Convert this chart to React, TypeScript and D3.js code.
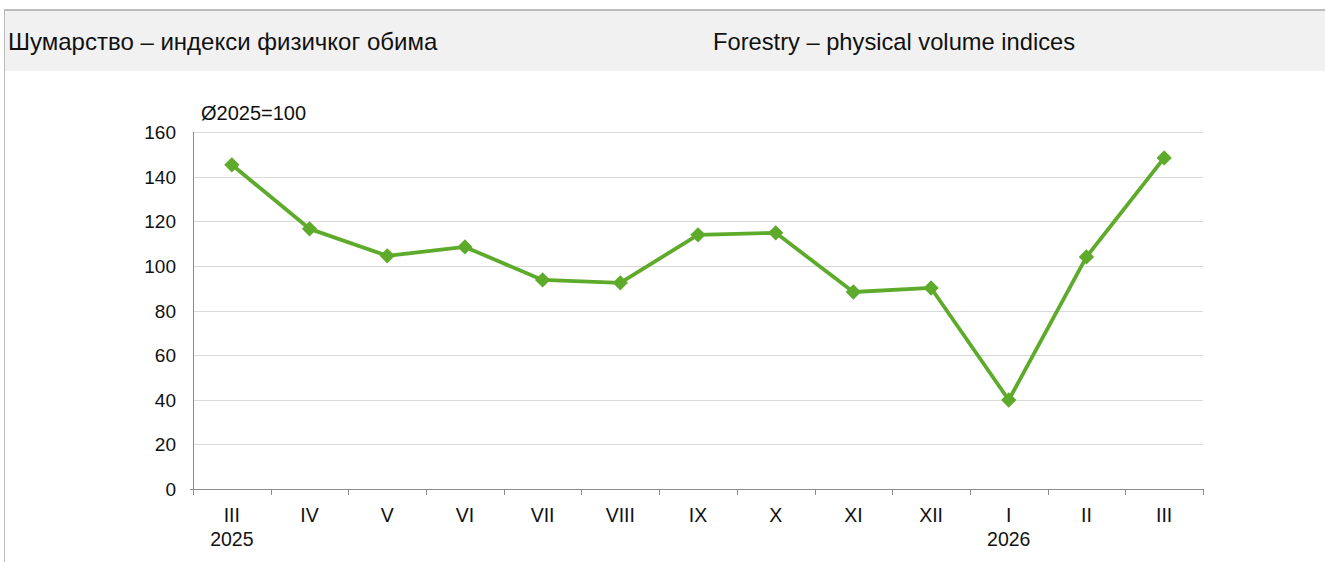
import React from "react";
import * as d3 from "d3";

const categories = ["III", "IV", "V", "VI", "VII", "VIII", "IX", "X", "XI", "XII", "I", "II", "III"];
const years = ["2025", "", "", "", "", "", "", "", "", "", "2026", "", ""];
const values = [145.3, 116.6, 104.5, 108.5, 93.7, 92.4, 113.9, 114.8, 88.3, 90.1, 39.9, 104.0, 148.4];
const yTicks = [0, 20, 40, 60, 80, 100, 120, 140, 160];
const titleSr = "Шумарство – индекси физичког обима";
const titleEn = "Forestry – physical volume indices";
const unitLabel = "Ø2025=100";

const W = 1325;
const H = 562;
const left = 193;
const right = 1203;
const top = 132;
const bottom = 489;
const green = "#5eab2b";
const font = "Liberation Sans, Arial, sans-serif";

export default function App() {
  const idx = categories.map((_, i) => i);
  const x = d3.scaleBand<number>().domain(idx).range([left, right]).padding(0);
  const y = d3.scaleLinear().domain([0, 160]).range([bottom, top]);
  const cx = (i: number) => (x(i) as number) + x.bandwidth() / 2;
  const line = d3.line<number>().x((_, i) => cx(i)).y((d) => y(d));
  const boundaries = d3.range(categories.length + 1).map((i) => left + i * x.bandwidth());
  const diamond = d3.symbol().type(d3.symbolDiamond2).size(150)();

  return (
    <svg width={W} height={H} style={{ position: "absolute", left: 0, top: 0 }} fontFamily={font}>
      <rect x={0} y={0} width={W} height={H} fill="#fff" />
      <rect x={4} y={10} width={W - 4} height={61} fill="#f1f1f1" />
      <line x1={4} x2={W} y1={10} y2={10} stroke="#bcbcbc" strokeWidth={2} />
      <line x1={4.5} x2={4.5} y1={9} y2={H} stroke="#bcbcbc" strokeWidth={1} />
      <text x={8} y={50} fontSize={24} fill="#111">{titleSr}</text>
      <text x={713} y={50} fontSize={23.7} fill="#111">{titleEn}</text>

      {yTicks.filter((t) => t > 0).map((t) => (
        <line key={t} x1={left} x2={right} y1={Math.round(y(t)) + 0.5} y2={Math.round(y(t)) + 0.5} stroke="#d9d9d9" strokeWidth={1} />
      ))}
      {yTicks.map((t) => (
        <text key={t} x={176} y={y(t) + 7} fontSize={19} textAnchor="end" fill="#111">{t}</text>
      ))}
      <text x={201} y={120} fontSize={20} fill="#111">{unitLabel}</text>

      <line x1={left + 0.5} x2={left + 0.5} y1={top} y2={bottom + 6} stroke="#8c8c8c" strokeWidth={1} />
      <line x1={left - 3} x2={right} y1={bottom + 0.5} y2={bottom + 0.5} stroke="#8c8c8c" strokeWidth={1} />
      {boundaries.map((b, i) => (
        <line key={i} x1={Math.round(b) + 0.5} x2={Math.round(b) + 0.5} y1={bottom} y2={bottom + 6} stroke="#8c8c8c" strokeWidth={1} />
      ))}
      {categories.map((c, i) => (
        <text key={i} x={cx(i)} y={522} fontSize={19.5} textAnchor="middle" fill="#111">{c}</text>
      ))}
      {years.map((c, i) => c ? (
        <text key={"y" + i} x={cx(i)} y={546} fontSize={19.5} textAnchor="middle" fill="#111">{c}</text>
      ) : null)}

      <path d={line(values) || ""} fill="none" stroke={green} strokeWidth={3.8} strokeLinejoin="round" />
      {values.map((v, i) => (
        <path key={i} d={diamond || ""} transform={`translate(${cx(i)},${y(v)})`} fill={green} />
      ))}
    </svg>
  );
}
